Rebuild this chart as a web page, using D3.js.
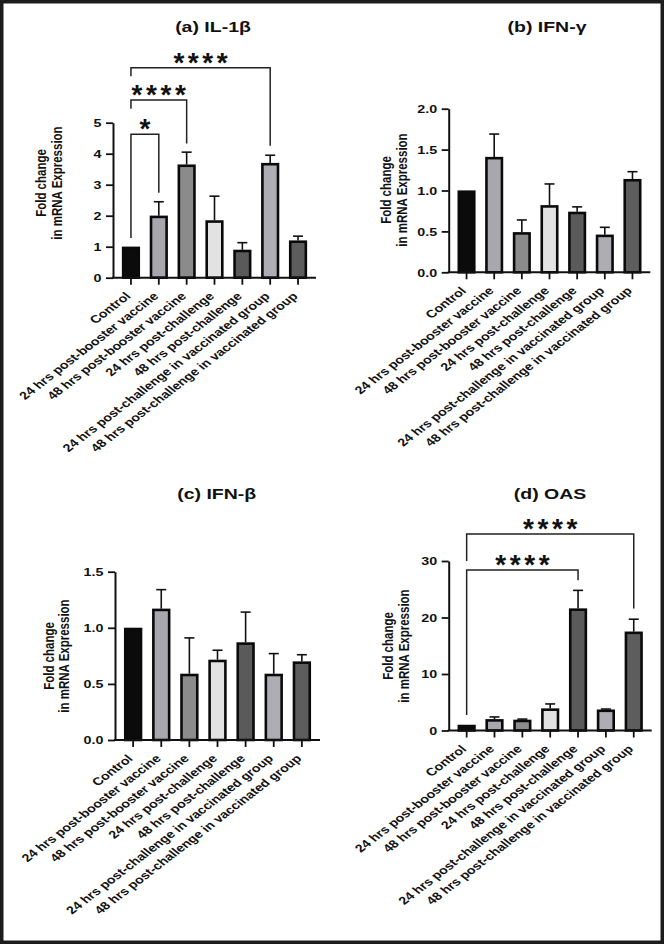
<!DOCTYPE html>
<html>
<head>
<meta charset="utf-8">
<script src="https://cdn.jsdelivr.net/npm/d3@7"></script>
<style>
  html, body { margin: 0; padding: 0; background: #ffffff; }
  svg { display: block; }
  text { font-family: "Liberation Sans", Arial, Helvetica, sans-serif; font-weight: bold; fill: #111; }
</style>
</head>
<body>
<svg id="chart" width="664" height="944"></svg>
<script>
// ---------------- DATA ----------------
const categories = [
  "Control",
  "24 hrs post-booster vaccine",
  "48 hrs post-booster vaccine",
  "24 hrs post-challenge",
  "48 hrs post-challenge",
  "24 hrs post-challenge in vaccinated group",
  "48 hrs post-challenge in vaccinated group"
];
const barColors = ["#0b0b0b", "#a8a7ad", "#8b8b8b", "#e2e2e2", "#5a5a5a", "#aeadb3", "#5d5d5d"];

const il1bMean = [1.0, 2.0, 3.65, 1.85, 0.9, 3.7, 1.2];
const il1bErr  = [0, 0.45, 0.40, 0.78, 0.23, 0.25, 0.14];
const ifngMean = [1.0, 1.41, 0.49, 0.82, 0.74, 0.46, 1.14];
const ifngErr  = [0, 0.28, 0.15, 0.26, 0.06, 0.09, 0.09];
const ifnbMean = [1.0, 1.17, 0.59, 0.715, 0.87, 0.59, 0.70];
const ifnbErr  = [0, 0.17, 0.32, 0.085, 0.27, 0.18, 0.06];
const oasMean  = [1.0, 2.0, 1.9, 3.9, 21.6, 3.7, 17.5];
const oasErr   = [0, 0.4, 0.12, 0.8, 3.2, 0.1, 2.2];

const il1bTicks = [0, 1, 2, 3, 4, 5];
const ifngTicks = [0, 0.5, 1.0, 1.5, 2.0];
const ifnbTicks = [0, 0.5, 1.0, 1.5];
const oasTicks  = [0, 10, 20, 30];

const titles = ["(a) IL-1β", "(b) IFN-γ", "(c) IFN-β", "(d) OAS"];
const yLabelLines = ["Fold change", "in mRNA Expression"];

// significance brackets: from/to category index, bracket level, leg ends (data units), label
const il1bBrackets = [
  { from: 0, to: 1, level: 4.63, leftEnd: 1.28, rightEnd: 2.74, label: "*" },
  { from: 0, to: 2, level: 5.73, leftEnd: 5.45, rightEnd: 4.33, label: "****" },
  { from: 0, to: 5, level: 6.77, leftEnd: 6.50, rightEnd: 4.26, label: "****" }
];
const oasBrackets = [
  { from: 0, to: 4, level: 28.4, leftEnd: 2.74, rightEnd: 26.6, label: "****" },
  { from: 0, to: 6, level: 34.8, leftEnd: 30.0, rightEnd: 21.6, label: "****" }
];

// ---------------- LAYOUT ----------------
const SX = 1.3; // horizontal stretch of the original figure
const svg = d3.select("#chart");
svg.append("rect").attr("x", 0).attr("y", 0).attr("width", 664).attr("height", 944).attr("fill", "#fff");

const panels = [
  { mean: il1bMean, err: il1bErr, ticks: il1bTicks, fmt: d3.format("d"), brackets: il1bBrackets, title: titles[0],
    left: 113, right: 316, y0: 277.7, yTop: 122.7, yMax: 5, titleX: 213, titleY: 31.5,
    labX: [46, 62], labY: 183 },
  { mean: ifngMean, err: ifngErr, ticks: ifngTicks, fmt: d3.format(".1f"), brackets: [], title: titles[1],
    left: 448.7, right: 650.3, y0: 272.3, yTop: 108.7, yMax: 2, titleX: 547, titleY: 31.5,
    labX: [391, 407], labY: 190 },
  { mean: ifnbMean, err: ifnbErr, ticks: ifnbTicks, fmt: d3.format(".1f"), brackets: [], title: titles[2],
    left: 115, right: 320, y0: 740, yTop: 571.7, yMax: 1.5, titleX: 216.7, titleY: 498.5,
    labX: [54.3, 69.3], labY: 656 },
  { mean: oasMean, err: oasErr, ticks: oasTicks, fmt: d3.format("d"), brackets: oasBrackets, title: titles[3],
    left: 448.7, right: 651.7, y0: 730.5, yTop: 561, yMax: 30, titleX: 550, titleY: 498.5,
    labX: [393, 409.3], labY: 646 }
];

function st(x, y, rot) {
  return `translate(${x},${y}) scale(${SX},1)` + (rot !== undefined ? ` rotate(${rot})` : "");
}

panels.forEach(p => {
  const g = svg.append("g");
  const x = d3.scaleBand().domain(categories).range([p.left, p.right]).paddingInner(0.35).paddingOuter(0.32);
  const y = d3.scaleLinear().domain([0, p.yMax]).range([p.y0, p.yTop]);
  const bw = x.bandwidth();
  const rows = categories.map((c, i) => ({ c, i, v: p.mean[i], e: p.err[i], color: barColors[i] }));

  // error bars (upper only)
  const eb = g.append("g").attr("stroke", "#111").attr("stroke-width", 1.6).attr("fill", "none");
  rows.filter(d => d.e > 0).forEach(d => {
    const cx = x(d.c) + bw / 2;
    eb.append("line").attr("x1", cx).attr("x2", cx).attr("y1", y(d.v)).attr("y2", y(d.v + d.e));
    eb.append("line").attr("x1", cx - 5).attr("x2", cx + 5).attr("y1", y(d.v + d.e)).attr("y2", y(d.v + d.e));
  });

  // bars
  g.append("g").selectAll("rect").data(rows).join("rect")
    .attr("x", d => x(d.c) + 1.25)
    .attr("width", bw - 2.5)
    .attr("y", d => y(d.v) + 1.2)
    .attr("height", d => Math.max(0, y(0) - y(d.v) - 1.2))
    .attr("fill", d => d.color)
    .attr("stroke", "#0a0a0a")
    .attr("stroke-width", 2.6);

  // y axis
  const ya = g.append("g").attr("transform", `translate(${p.left},0)`)
    .call(d3.axisLeft(y).tickValues(p.ticks).tickFormat(p.fmt).tickSize(7).tickSizeOuter(0));
  ya.select(".domain").attr("stroke", "#111").attr("stroke-width", 2);
  ya.selectAll(".tick line").attr("stroke", "#111").attr("stroke-width", 1.8);
  ya.selectAll(".tick text")
    .attr("x", null).attr("dy", "0.36em")
    .attr("transform", st(-11.5, 0))
    .attr("text-anchor", "end")
    .style("font-size", "11px").style("font-family", "'Liberation Sans', Arial, sans-serif")
    .style("font-weight", "bold").attr("fill", "#111");

  // x axis
  const xa = g.append("g").attr("transform", `translate(0,${p.y0})`)
    .call(d3.axisBottom(x).tickSize(7).tickSizeOuter(0));
  xa.select(".domain").attr("stroke", "#111").attr("stroke-width", 2).attr("d", `M${p.left - 1},0H${p.right}`);
  xa.selectAll(".tick line").attr("stroke", "#111").attr("stroke-width", 1.8);
  xa.selectAll(".tick text")
    .attr("y", null).attr("dy", "0.35em")
    .attr("transform", st(-3, 16.5, -45))
    .attr("text-anchor", "end")
    .style("font-size", "11px").style("font-family", "'Liberation Sans', Arial, sans-serif")
    .style("font-weight", "bold").attr("fill", "#111");

  // title
  g.append("text").attr("transform", st(p.titleX, p.titleY)).attr("text-anchor", "middle")
    .style("font-size", "15px").text(p.title);

  // y label
  yLabelLines.forEach((t, k) => {
    g.append("text").attr("transform", st(p.labX[k], p.labY, -90)).attr("text-anchor", "middle")
      .style("font-size", "11.5px").text(t);
  });

  // brackets
  const bg = g.append("g").attr("stroke", "#222").attr("stroke-width", 1.5).attr("fill", "none");
  p.brackets.forEach(b => {
    const x1 = x(categories[b.from]) + bw / 2, x2 = x(categories[b.to]) + bw / 2;
    bg.append("path").attr("d",
      `M${x1},${y(b.leftEnd)}V${y(b.level)}H${x2}V${y(b.rightEnd)}`);
    const ls = 3.6;
    g.append("text")
      .attr("x", (x1 + x2) / 2 + ls / 2)
      .attr("y", y(b.level) + 4)
      .attr("text-anchor", "middle")
      .style("font-size", "28px")
      .style("letter-spacing", ls + "px")
      .text(b.label);
  });
});

// outer frame
svg.append("rect").attr("x", 1.75).attr("y", 1.75).attr("width", 660.5).attr("height", 940.5)
  .attr("fill", "none").attr("stroke", "#1c1c1c").attr("stroke-width", 3.5);
</script>
</body>
</html>
